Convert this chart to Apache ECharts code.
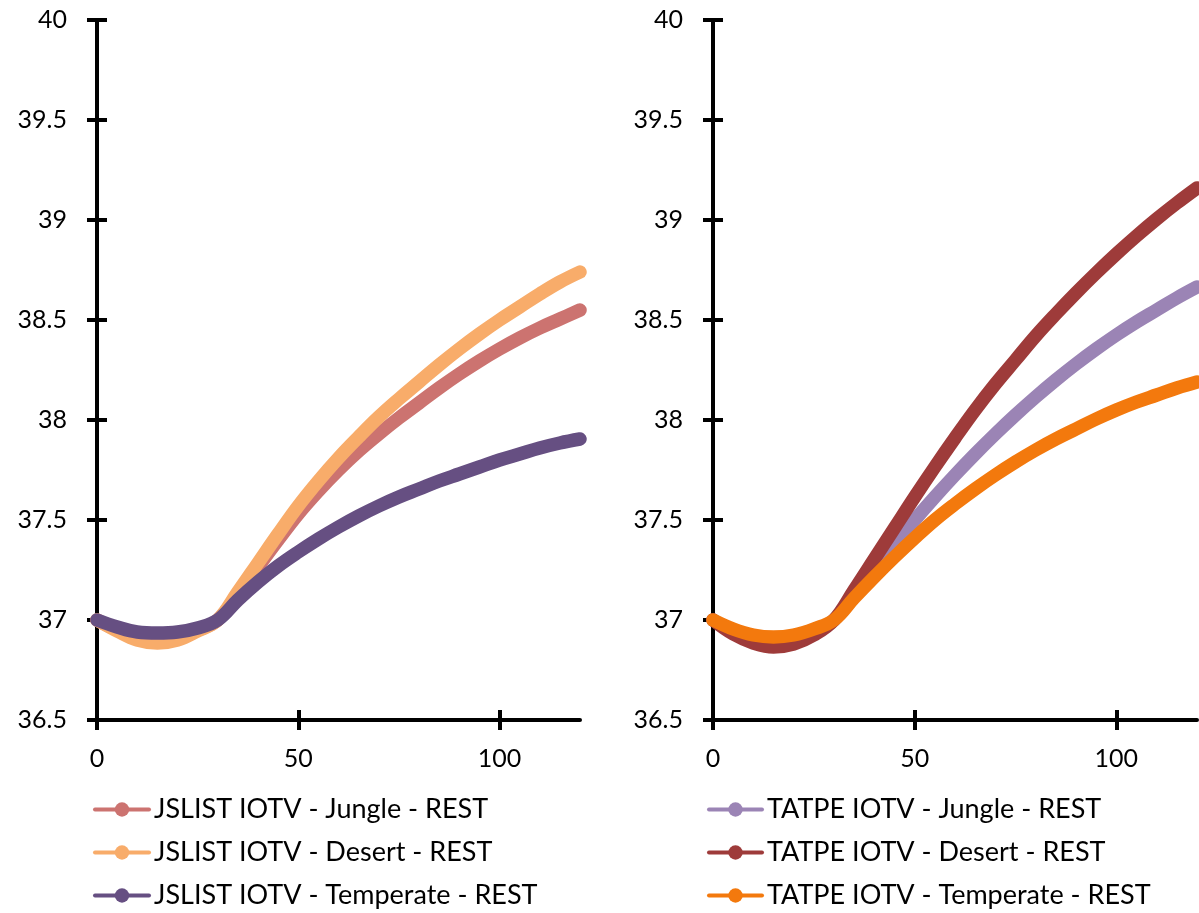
<!DOCTYPE html>
<html>
<head>
<meta charset="utf-8">
<script src="https://cdn.jsdelivr.net/npm/echarts@6/dist/echarts.min.js"></script>
<style>
  html, body { margin: 0; padding: 0; background: #fff; }
  #chart { width: 1199px; height: 913px; }
</style>
</head>
<body>
<div id="chart"></div>
<script>
// Time (minutes) at which core temperature was sampled
const minutes = [0, 5, 10, 15, 20, 25, 30, 35, 40, 45, 50, 55, 60, 65, 70, 75, 80, 85, 90, 95, 100, 105, 110, 115, 120];

// JSLIST IOTV ensembles, resting (°C)
const jslistJungle    = [37.00, 36.95, 36.91, 36.895, 36.91, 36.95, 37.00, 37.13, 37.265, 37.40, 37.53, 37.645, 37.75, 37.845, 37.93, 38.01, 38.085, 38.16, 38.23, 38.295, 38.355, 38.41, 38.46, 38.505, 38.55];
const jslistDesert    = [37.00, 36.945, 36.90, 36.885, 36.90, 36.945, 37.00, 37.14, 37.285, 37.43, 37.57, 37.695, 37.81, 37.915, 38.015, 38.105, 38.19, 38.275, 38.355, 38.43, 38.50, 38.565, 38.63, 38.69, 38.74];
const jslistTemperate = [37.00, 36.965, 36.94, 36.935, 36.94, 36.96, 37.00, 37.10, 37.19, 37.27, 37.34, 37.405, 37.465, 37.52, 37.57, 37.615, 37.655, 37.695, 37.73, 37.765, 37.80, 37.83, 37.86, 37.885, 37.905];

// TATPE IOTV ensembles, resting (°C)
const tatpeJungle     = [37.00, 36.94, 36.90, 36.885, 36.90, 36.94, 37.00, 37.13, 37.255, 37.38, 37.50, 37.615, 37.725, 37.83, 37.93, 38.025, 38.115, 38.20, 38.28, 38.355, 38.425, 38.49, 38.55, 38.61, 38.665];
const tatpeDesert     = [37.00, 36.93, 36.885, 36.865, 36.88, 36.925, 37.00, 37.15, 37.305, 37.46, 37.615, 37.765, 37.91, 38.05, 38.18, 38.30, 38.42, 38.53, 38.635, 38.735, 38.83, 38.92, 39.005, 39.085, 39.16];
const tatpeTemperate  = [37.00, 36.955, 36.925, 36.915, 36.925, 36.955, 37.00, 37.11, 37.215, 37.315, 37.41, 37.50, 37.58, 37.655, 37.725, 37.79, 37.85, 37.905, 37.955, 38.005, 38.05, 38.09, 38.125, 38.16, 38.19];

// Axis ticks
const xTicks = [0, 50, 100];
const yTicks = [36.5, 37, 37.5, 38, 38.5, 39, 39.5, 40];

const seriesNames = {
  left: ['JSLIST IOTV - Jungle - REST', 'JSLIST IOTV - Desert - REST', 'JSLIST IOTV - Temperate - REST'],
  right: ['TATPE IOTV - Jungle - REST', 'TATPE IOTV - Desert - REST', 'TATPE IOTV - Temperate - REST']
};
const colors = {
  left: ['#CC7370', '#F8AC6A', '#664F82'],
  right: ['#9B84B5', '#9E3B3A', '#F3790D']
};

const FONT = 'Lato';
const AXIS_W = 4;

const pairs = vals => minutes.map((m, i) => [m, vals[i]]);

const grids = [
  { left: 97, top: 20, width: 483, height: 700, outerBoundsMode: 'none' },
  { left: 713, top: 20, width: 484, height: 700, outerBoundsMode: 'none' }
];
// Overlay grids carry the inner half of each cross tick
const allGrids = grids.concat(grids.map(g => Object.assign({}, g)));

function xAxisFor(gridIndex, inner) {
  return {
    type: 'value', gridIndex, min: 0, max: 120,
    axisLine: { show: !inner, lineStyle: { color: '#000', width: AXIS_W } },
    axisTick: { show: true, inside: inner, length: 10, customValues: xTicks, lineStyle: { color: '#000', width: AXIS_W } },
    axisLabel: { show: !inner, customValues: xTicks, margin: 26, color: '#000', fontSize: 25, fontFamily: FONT },
    splitLine: { show: false }
  };
}
function yAxisFor(gridIndex, inner) {
  return {
    type: 'value', gridIndex, min: 36.5, max: 40, interval: 0.5,
    axisLine: { show: !inner, lineStyle: { color: '#000', width: AXIS_W } },
    axisTick: { show: true, inside: inner, length: 10, customValues: yTicks, lineStyle: { color: '#000', width: AXIS_W } },
    axisLabel: { show: !inner, customValues: yTicks, margin: 30, color: '#000', fontSize: 25, fontFamily: FONT },
    splitLine: { show: false }
  };
}

const xAxes = [xAxisFor(0, false), xAxisFor(1, false), xAxisFor(2, true), xAxisFor(3, true)];
const yAxes = [yAxisFor(0, false), yAxisFor(1, false), yAxisFor(2, true), yAxisFor(3, true)];

function lineSeries(name, color, vals, gi) {
  return {
    name, type: 'line', xAxisIndex: gi, yAxisIndex: gi,
    data: pairs(vals),
    smooth: 0.4,
    symbol: 'circle', showSymbol: false,
    color,
    lineStyle: { color, width: 13.5, cap: 'round', join: 'round' },
    emphasis: { disabled: true },
    animation: false
  };
}

const series = [
  lineSeries(seriesNames.left[0], colors.left[0], jslistJungle, 0),
  lineSeries(seriesNames.left[1], colors.left[1], jslistDesert, 0),
  lineSeries(seriesNames.left[2], colors.left[2], jslistTemperate, 0),
  lineSeries(seriesNames.right[0], colors.right[0], tatpeJungle, 1),
  lineSeries(seriesNames.right[1], colors.right[1], tatpeDesert, 1),
  lineSeries(seriesNames.right[2], colors.right[2], tatpeTemperate, 1)
];

function legendFor(names, left, iconW) {
  return {
    data: names, orient: 'vertical', left, top: 796, height: 117,
    padding: 0,
    itemWidth: iconW, itemHeight: 18, itemGap: 16,
    selectedMode: false,
    lineStyle: { width: 4 },
    textStyle: { color: '#000', fontSize: 27, fontFamily: FONT, lineHeight: 27 }
  };
}

const chart = echarts.init(document.getElementById('chart'), null, { renderer: 'canvas' });
chart.setOption({
  backgroundColor: '#fff',
  animation: false,
  grid: allGrids,
  xAxis: xAxes,
  yAxis: yAxes,
  legend: [legendFor(seriesNames.left, 93, 54), legendFor(seriesNames.right, 707, 53)],
  series
});
</script>
</body>
</html>
